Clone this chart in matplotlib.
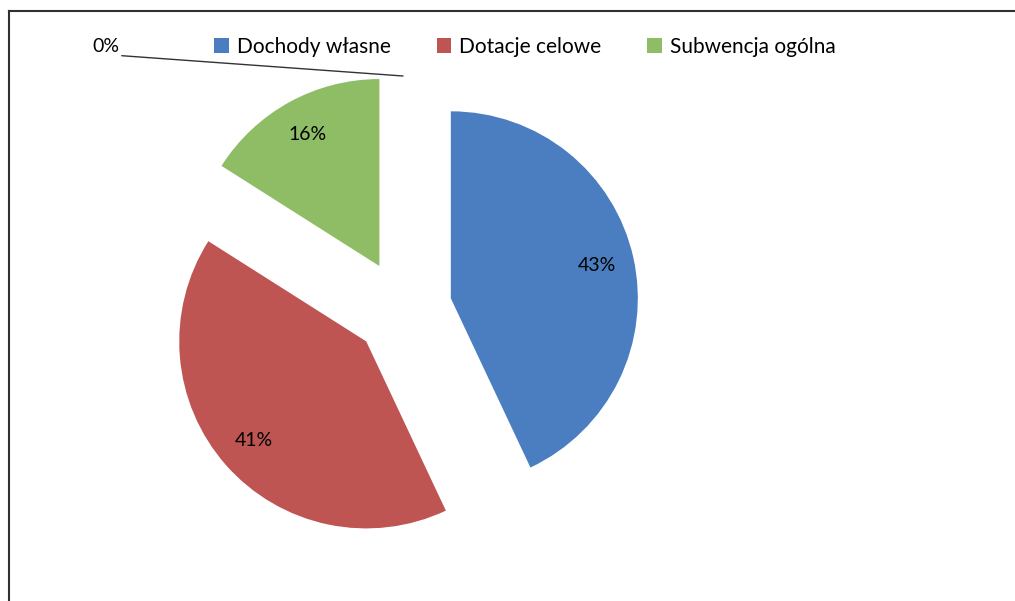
import matplotlib.pyplot as plt
from matplotlib.lines import Line2D
from matplotlib.patches import Patch
import numpy as np

# ----------
# data
# ----------
categories = ["Dochody własne", "Dotacje celowe", "Subwencja ogólna"]
shares = [43, 41, 16]
other_share = 0  # unnamed category shown only as "0%"
colors = ["#4A7EC0", "#BE5552", "#8EBD65"]

plt.rcParams["font.family"] = ["Lato", "DejaVu Sans"]

W, H = 1015, 601
fig = plt.figure(figsize=(W / 100, H / 100), dpi=100)
ax = fig.add_axes([0, 0, 1, 1])

center = (403, H - 309)
radius = 187
expl = 49

wedges, texts, autotexts = ax.pie(
    shares, colors=colors, startangle=90, counterclock=False,
    explode=[expl] * len(shares), center=center, radius=radius,
    autopct="%.0f%%", pctdistance=0.8,
    textprops=dict(fontsize=14, color="black"))

ax.set_xlim(0, W)
ax.set_ylim(0, H)
ax.set_aspect("equal")
ax.axis("off")

# 0% slice sits at the top (end of the circle)
angle = np.deg2rad(90 - 360 * (sum(shares) + other_share / 2) / (sum(shares) + other_share))
anchor = (center[0] + (radius + expl) * np.cos(angle),
          center[1] + (radius + expl) * np.sin(angle) - 3)
ax.annotate(f"{other_share}%", xy=anchor, xytext=(119, H - 47),
            ha="right", va="center", fontsize=14,
            arrowprops=dict(arrowstyle="-", color="#333333", lw=1,
                            relpos=(1.0, 0.0), shrinkA=0, shrinkB=0))

handles = [Patch(facecolor=c, edgecolor="none") for c in colors]
fig.legend(handles, categories, loc="center", ncol=3, frameon=False,
           bbox_to_anchor=(525 / W, 1 - 47 / H), fontsize=15,
           handlelength=0.7, handleheight=0.7, handletextpad=0.4,
           columnspacing=2.2)

# chart frame (cut off at right and bottom)
fig.add_artist(Line2D([9 / W, 1.0], [1 - 11 / H] * 2, color="#303030", lw=1.5))
fig.add_artist(Line2D([9 / W] * 2, [0, 1 - 11 / H], color="#303030", lw=1.5))

fig.savefig("out.png", dpi=100)
